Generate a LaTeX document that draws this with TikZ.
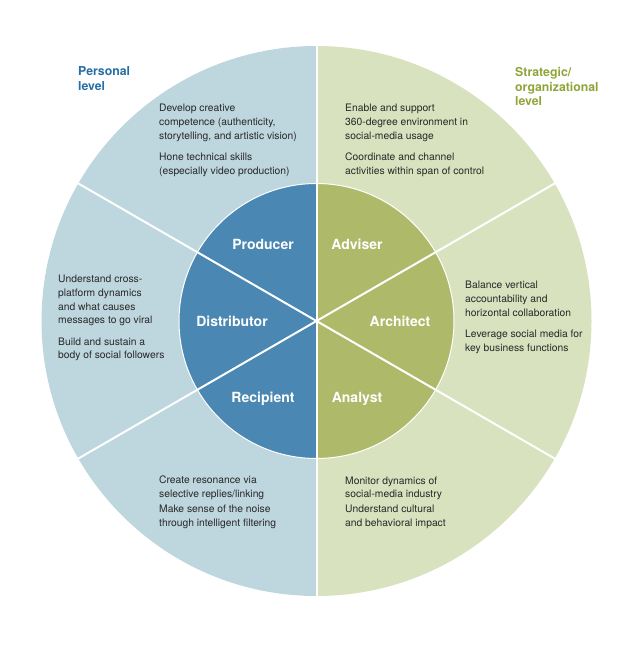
\documentclass[tikz,border=0pt]{standalone}
\usepackage{fontspec}
\setmainfont{TeX Gyre Heros}
\usetikzlibrary{calc}
\definecolor{outerblue}{RGB}{190,214,222}
\definecolor{outergreen}{RGB}{216,226,190}
\definecolor{innerblue}{RGB}{74,135,178}
\definecolor{innergreen}{RGB}{174,186,106}
\definecolor{titleblue}{RGB}{39,110,165}
\definecolor{titlegreen}{RGB}{143,165,58}
\definecolor{bodytext}{RGB}{40,40,40}
\tikzset{
  body/.style={anchor=north west, inner sep=0pt, align=left, text=bodytext,
    font=\fontsize{10.3}{13.7}\selectfont},
  title/.style={anchor=north west, inner sep=0pt, align=left,
    font=\fontsize{12.3}{14.5}\selectfont\bfseries},
  role/.style={anchor=base, inner sep=0pt, text=white,
    font=\fontsize{14}{16}\selectfont\bfseries},
  divider/.style={white, line width=2pt}
}
\begin{document}
\begin{tikzpicture}[x=1pt,y=-1pt]
\useasboundingbox (0,0) rectangle (640,656);
\coordinate (c) at (316.5,321);
\begin{scope}
  \clip (0,0) rectangle (316.5,656);
  \fill[outerblue] (c) circle[radius=275pt];
  \fill[innerblue] (c) circle[radius=137.5pt];
\end{scope}
\begin{scope}
  \clip (316.5,0) rectangle (640,656);
  \fill[outergreen] (c) circle[radius=275pt];
  \fill[innergreen] (c) circle[radius=137.5pt];
\end{scope}
\draw[white, line width=1pt] (c) circle[radius=137.5pt];
\foreach \a/\n in {30/a,150/b,210/e,330/f}{
  \coordinate (end\n) at ($(c)+(\a:276pt)$);
  \draw[divider] (c) -- (end\n);
}
\coordinate (top) at (316.5,45);
\coordinate (bot) at (316.5,597);
\draw[divider] (top) -- (bot);

\node[title, text=titleblue] (personal) at (78,66.5) {Personal\\level};
\node[title, text=titlegreen] (strategic) at (515,67.5) {Strategic/\\organizational\\level};

\node[body] (tl) at (159,104) {Develop creative\\competence (authenticity,\\storytelling, and artistic vision)\\[7.5pt]Hone technical skills\\(especially video production)};
\node[body] (tr) at (345,104) {Enable and support\\360-degree environment in\\social-media usage\\[7.5pt]Coordinate and channel\\activities within span of control};
\node[body] (l) at (58,275) {Understand cross-\\platform dynamics\\and what causes\\messages to go viral\\[7.5pt]Build and sustain a\\body of social followers};
\node[body] (r) at (465,281) {Balance vertical\\accountability and\\horizontal collaboration\\[7.5pt]Leverage social media for\\key business functions};
\node[body] (bl) at (159,476) {Create resonance via\\selective replies/linking\\[1pt]Make sense of the noise\\through intelligent filtering};
\node[body] (br) at (345,476.5) {Monitor dynamics of\\social-media industry\\[1pt]Understand cultural\\and behavioral impact};

\node[role] (producer) at (263,249) {Producer};
\node[role] (adviser) at (357,249) {Adviser};
\node[role] (distributor) at (232,326) {Distributor};
\node[role] (architect) at (400,326) {Architect};
\node[role] (recipient) at (263,402) {Recipient};
\node[role] (analyst) at (357,402) {Analyst};
\end{tikzpicture}
\end{document}
